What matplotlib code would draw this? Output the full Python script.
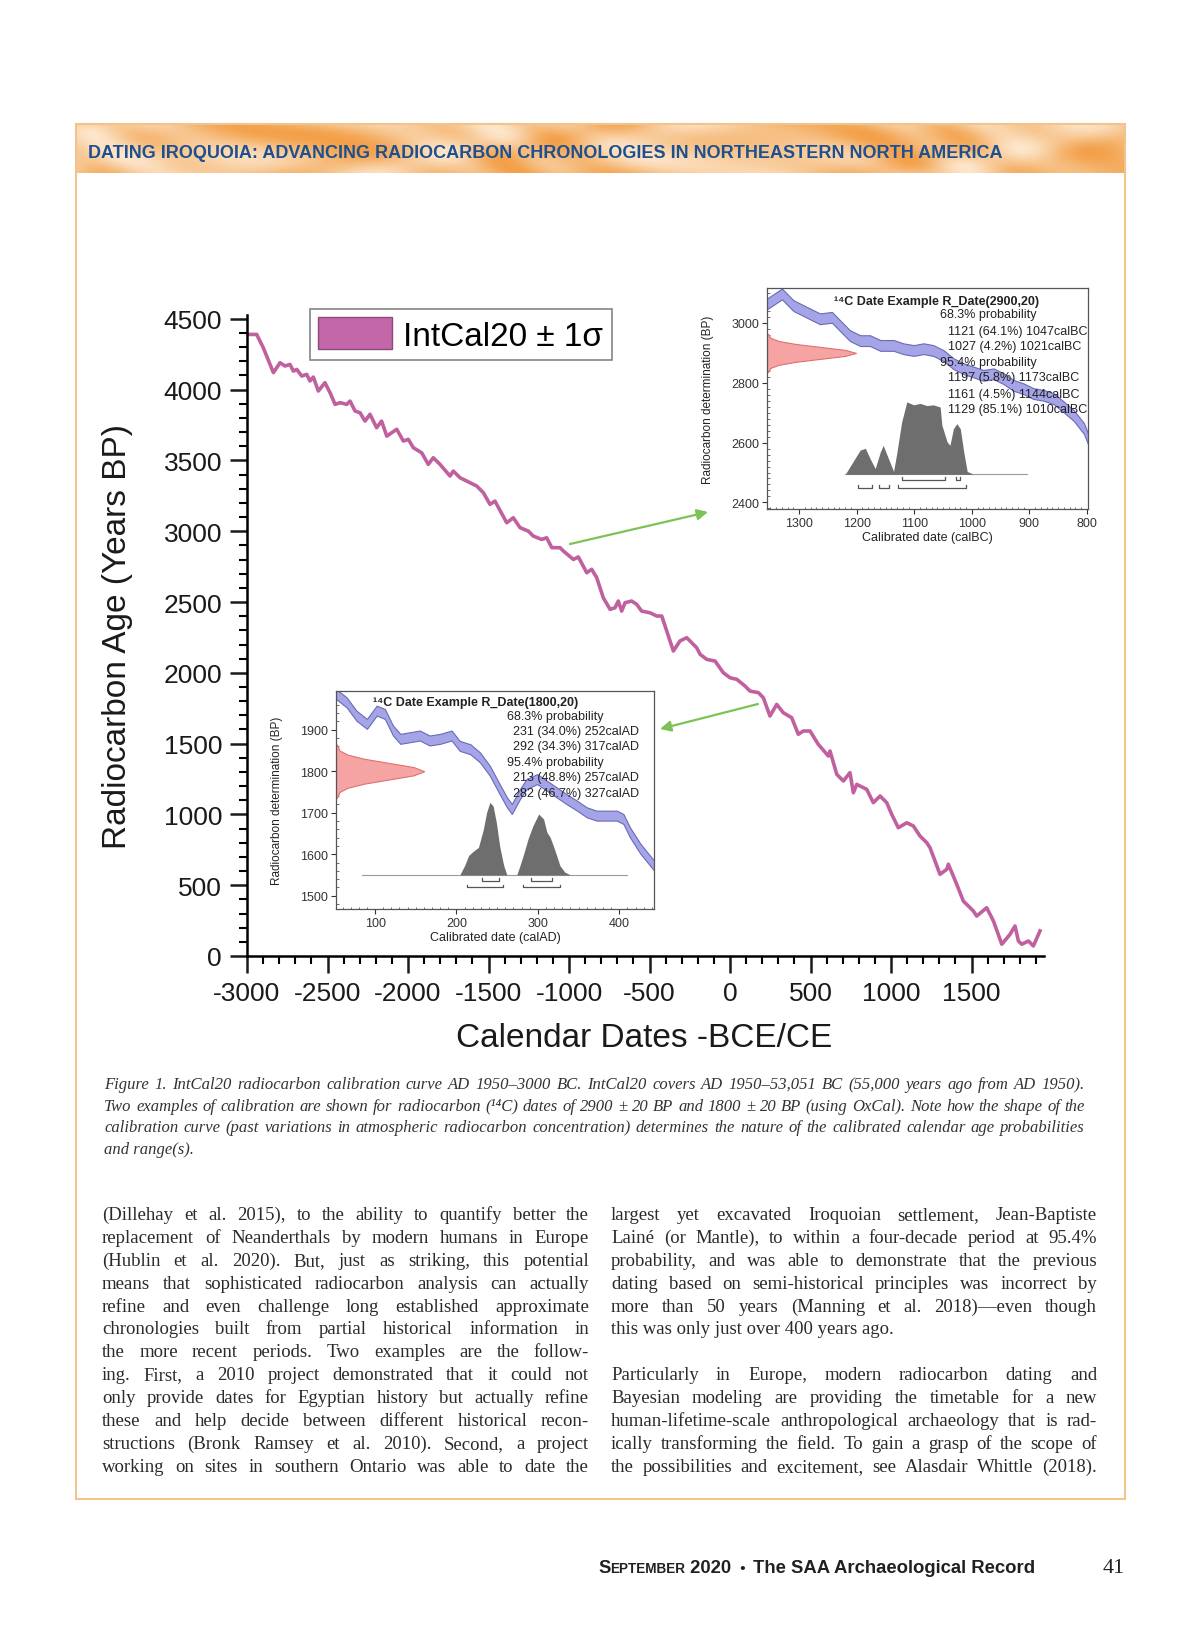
import numpy as np
import matplotlib
matplotlib.use('Agg')
import matplotlib.pyplot as plt
from matplotlib import font_manager
from matplotlib.colors import LinearSegmentedColormap
from matplotlib.patches import Patch, Rectangle

# IntCal20 curve (calendar year, 14C age BP)
cal_year = [-3000, -2940, -2899, -2836, -2795, -2764, -2733, -2712, -2691, -2660,
            -2629, -2609, -2588, -2557, -2516, -2484, -2453, -2422, -2381, -2360,
            -2329, -2298, -2267, -2236, -2195, -2164, -2132, -2070, -2029, -1998,
            -1967, -1915, -1874, -1843, -1801, -1739, -1719, -1677, -1573, -1532,
            -1491, -1460, -1387, -1346, -1304, -1253, -1222, -1170, -1139, -1107,
            -1056, -1035, -973, -942, -890, -859, -828, -787, -745, -714,
            -694, -673, -652, -611, -580, -549, -497, -455, -424, -393,
            -352, -311, -269, -238, -207, -186, -145, -93, -42, 0,
            42, 93, 124, 176, 207, 248, 290, 331, 383, 424,
            455, 497, 548, 611, 621, 663, 704, 745, 766, 787,
            849, 890, 932, 973, 1004, 1045, 1098, 1139, 1180, 1222,
            1242, 1304, 1346, 1356, 1408, 1449, 1511, 1532, 1594, 1636,
            1688, 1739, 1770, 1791, 1812, 1853, 1884, 1925]
bp_age = [4390, 4390, 4296, 4120, 4190, 4167, 4178, 4131, 4143, 4096,
          4108, 4061, 4089, 3990, 4049, 3978, 3896, 3908, 3896, 3919,
          3849, 3837, 3778, 3826, 3731, 3778, 3672, 3720, 3637, 3649,
          3590, 3554, 3472, 3519, 3472, 3390, 3425, 3378, 3319, 3272,
          3190, 3213, 3060, 3095, 3025, 3001, 2966, 2942, 2954, 2884,
          2884, 2860, 2801, 2818, 2707, 2731, 2672, 2530, 2448, 2460,
          2507, 2436, 2495, 2507, 2484, 2436, 2424, 2401, 2401, 2295,
          2154, 2225, 2248, 2213, 2177, 2131, 2095, 2083, 2001, 1965,
          1954, 1907, 1871, 1860, 1824, 1695, 1777, 1718, 1683, 1566,
          1589, 1589, 1495, 1412, 1448, 1283, 1236, 1295, 1153, 1212,
          1177, 1083, 1130, 1083, 1001, 906, 941, 918, 847, 800,
          765, 577, 612, 648, 506, 388, 318, 282, 341, 247,
          83, 153, 212, 106, 83, 106, 71, 177]

# inset 1: R_Date(2900,20)
ins1_year = [1356, 1330, 1310, 1287, 1264, 1243, 1229, 1212, 1194, 1177,
             1159, 1136, 1119, 1101, 1084, 1067, 1049, 1032, 1014, 997,
             980, 962, 945, 927, 910, 893, 875, 858, 840, 823, 805, 797]
ins1_bp = [3064, 3097, 3058, 3036, 3014, 3019, 2991, 2958, 2941, 2941,
           2925, 2925, 2914, 2908, 2914, 2908, 2891, 2864, 2847, 2836,
           2825, 2830, 2814, 2791, 2780, 2764, 2758, 2747, 2719, 2691, 2647, 2608]
post1_year = [1220, 1203, 1194, 1185, 1177, 1168, 1159, 1154, 1145, 1136, 1130, 1122, 1113, 1101,
              1090, 1078, 1067, 1055, 1052, 1043, 1038, 1032, 1026, 1020, 1014, 1008, 997]
post1_prob = [0, 0.22, 0.335, 0.36, 0.22, 0.08, 0.31, 0.40, 0.22, 0.04, 0.31, 0.72, 1.0, 0.96,
              0.98, 0.95, 0.96, 0.93, 0.68, 0.45, 0.40, 0.63, 0.70, 0.63, 0.31, 0.04, 0]
ins1_r68 = [(1121, 1047), (1027, 1021)]
ins1_r95 = [(1197, 1173), (1161, 1144), (1129, 1010)]
ins1_lines = [('68.3% probability', 0), ('1121 (64.1%) 1047calBC', 1), ('1027 (4.2%) 1021calBC', 1),
              ('95.4% probability', 0), ('1197 (5.8%) 1173calBC', 1), ('1161 (4.5%) 1144calBC', 1),
              ('1129 (85.1%) 1010calBC', 1)]

# inset 2: R_Date(1800,20)
ins2_year = [52, 65, 77, 90, 102, 112, 122, 131, 143, 155, 167, 180, 194, 204, 217, 229, 241, 253,
             262, 268, 278, 286, 299, 311, 323, 335, 348, 360, 372, 385, 397, 405, 413, 426, 443]
ins2_bp = [1986, 1966, 1934, 1914, 1946, 1938, 1898, 1878, 1882, 1886, 1874, 1878, 1886, 1861,
           1853, 1833, 1801, 1757, 1725, 1709, 1745, 1769, 1781, 1765, 1749, 1733, 1717, 1701,
           1693, 1693, 1693, 1685, 1653, 1613, 1572]
post2_year = [204, 210, 215, 221, 227, 233, 237, 241, 245, 249, 253, 258, 262, 274,
              278, 282, 288, 294, 301, 307, 311, 315, 319, 323, 327, 333, 340]
post2_prob = [0, 0.13, 0.27, 0.33, 0.38, 0.63, 0.86, 1.0, 0.95, 0.72, 0.40, 0.13, 0, 0,
              0.13, 0.27, 0.50, 0.68, 0.84, 0.77, 0.59, 0.52, 0.40, 0.27, 0.13, 0.04, 0]
ins2_r68 = [(231, 252), (292, 317)]
ins2_r95 = [(213, 257), (282, 327)]
ins2_lines = [('68.3% probability', 0), ('231 (34.0%) 252calAD', 1), ('292 (34.3%) 317calAD', 1),
              ('95.4% probability', 0), ('213 (48.8%) 257calAD', 1), ('282 (46.7%) 327calAD', 1)]

date_off = [-64, -50, -40, -30, -20, -10, 0, 10, 20, 30, 40, 50, 64]
date_prob = [0.01, 0.04, 0.13, 0.32, 0.6, 0.88, 1.0, 0.88, 0.6, 0.32, 0.13, 0.04, 0.01]

header = 'DATING IROQUOIA: ADVANCING RADIOCARBON CHRONOLOGIES IN NORTHEASTERN NORTH AMERICA'
caption = ['Figure 1. IntCal20 radiocarbon calibration curve AD 1950–3000 BC. IntCal20 covers AD 1950–53,051 BC (55,000 years ago from AD 1950).',
           'Two examples of calibration are shown for radiocarbon (¹⁴C) dates of 2900 ± 20 BP and 1800 ± 20 BP (using OxCal). Note how the shape of the',
           'calibration curve (past variations in atmospheric radiocarbon concentration) determines the nature of the calibrated calendar age probabilities',
           'and range(s).']
left_col = ['(Dillehay et al. 2015), to the ability to quantify better the',
            'replacement of Neanderthals by modern humans in Europe',
            '(Hublin et al. 2020). But, just as striking, this potential',
            'means that sophisticated radiocarbon analysis can actually',
            'refine and even challenge long established approximate',
            'chronologies built from partial historical information in',
            'the more recent periods. Two examples are the follow-',
            'ing. First, a 2010 project demonstrated that it could not',
            'only provide dates for Egyptian history but actually refine',
            'these and help decide between different historical recon-',
            'structions (Bronk Ramsey et al. 2010). Second, a project',
            'working on sites in southern Ontario was able to date the']
right_col = ['largest yet excavated Iroquoian settlement, Jean-Baptiste',
             'Lainé (or Mantle), to within a four-decade period at 95.4%',
             'probability, and was able to demonstrate that the previous',
             'dating based on semi-historical principles was incorrect by',
             'more than 50 years (Manning et al. 2018)—even though',
             'this was only just over 400 years ago.',
             '',
             'Particularly in Europe, modern radiocarbon dating and',
             'Bayesian modeling are providing the timetable for a new',
             'human-lifetime-scale anthropological archaeology that is rad-',
             'ically transforming the field. To gain a grasp of the scope of',
             'the possibilities and excitement, see Alasdair Whittle (2018).']


def has_font(name):
    try:
        font_manager.findfont(font_manager.FontProperties(family=name), fallback_to_default=False)
        return True
    except ValueError:
        return False


SANS = ['Liberation Sans', 'DejaVu Sans']
NARROW = (['Liberation Sans Narrow'] + SANS) if has_font('Liberation Sans Narrow') else SANS
SERIF = ['Liberation Serif', 'DejaVu Serif']
plt.rcParams['font.family'] = SANS
plt.rcParams['axes.unicode_minus'] = False

W, H = 1200, 1631
fig = plt.figure(figsize=(W / 100, H / 100), dpi=100)
renderer = fig.canvas.get_renderer()


def box(l, t, r, b):
    return [l / W, 1 - b / H, (r - l) / W, (b - t) / H]


def justify(ax, s, x0, x1, y, **kw):
    words = s.split(' ')
    arts = [ax.text(x0, y, w, va='baseline', ha='left', **kw) for w in words]
    ws = [a.get_window_extent(renderer).width for a in arts]
    gap = (x1 - x0 - sum(ws)) / max(len(words) - 1, 1)
    x = x0
    for a, w in zip(arts, ws):
        a.set_x(x)
        x += w + gap


def run(ax, x, y, pieces, width, **kw):
    arts = [ax.text(x, y, s, fontsize=size, va='baseline', ha='left', **kw) for s, size in pieces]
    k = width / sum(a.get_window_extent(renderer).width for a in arts)
    for a, (s, size) in zip(arts, pieces):
        a.set_fontsize(size * k)
        a.set_x(x)
        x += a.get_window_extent(renderer).width


# page background, banner, border
page = fig.add_axes([0, 0, 1, 1], zorder=0)
page.axis('off')
yy, xx = np.mgrid[0:49, 0:1049]
tex = np.sin(xx / 45.0 + 1.5 * np.sin(yy / 14.0 + xx / 90.0)) + 0.7 * np.cos(xx / 21.0 - yy / 9.0 + 2 * np.sin(xx / 70.0))
banner_cmap = LinearSegmentedColormap.from_list('banner', ['#f3a049', '#f7c48c', '#fde6cc'])
page.imshow(tex, cmap=banner_cmap, extent=(76, 1125, 174, 125), aspect='auto', interpolation='bilinear')
page.add_patch(Rectangle((76, 125), 1049, 1375, fill=False, ec='#f1c48c', lw=1.5))
page.set_xlim(0, W)
page.set_ylim(H, 0)

t = page.text(88, 158, header, color='#1e4f8e', fontweight='bold', family=NARROW, fontsize=10,
              va='baseline', ha='left')
t.set_fontsize(10 * 910 / t.get_window_extent(renderer).width)

for i, line in enumerate(caption):
    y = 1089 + i * 21.6
    kw = dict(family=SERIF, style='italic', fontsize=12, color='#333333')
    if i < len(caption) - 1:
        justify(page, line, 104, 1085, y, **kw)
    else:
        page.text(104, y, line, va='baseline', **kw)

for col, (x0, x1) in ((left_col, (102, 589)), (right_col, (611, 1097))):
    for i, line in enumerate(col):
        if not line:
            continue
        y = 1220 + i * 22.9
        kw = dict(family=SERIF, fontsize=13.5, color='#2a2a2a')
        if line.endswith('ago.'):
            page.text(x0, y, line, va='baseline', **kw)
        else:
            justify(page, line, x0, x1, y, **kw)

run(page, 598, 1573, [('S', 15), ('EPTEMBER', 11), (' 2020', 15), ('  •  ', 12),
                      ('The SAA Archaeological Record', 15)], 439,
    family=NARROW, fontweight='bold', color='#231f20')
page.text(1125, 1573, '41', ha='right', va='baseline', family=SERIF, fontsize=16, color='#231f20')

# main calibration curve
ax = fig.add_axes(box(247, 315.6, 1044, 957), zorder=2)
ax.patch.set_alpha(0)
ax.plot(cal_year, bp_age, color='#c0609f', lw=2.6, solid_joinstyle='round')
ax.set_xlim(-3000, 1950)
ax.set_ylim(0, 4530)
for s in ('top', 'right'):
    ax.spines[s].set_visible(False)
for s in ('left', 'bottom'):
    ax.spines[s].set_linewidth(1.8)
ax.set_xticks(np.arange(-3000, 1501, 500))
ax.set_xticks(np.arange(-3000, 1951, 100), minor=True)
ax.set_yticks(np.arange(0, 4501, 500))
ax.set_yticks(np.arange(0, 4501, 100), minor=True)
ax.tick_params(which='major', length=12, width=1.8, labelsize=19, pad=6, colors='#1a1a1a')
ax.tick_params(which='minor', length=6, width=1.5)
ax.set_ylabel('Radiocarbon Age (Years BP)', fontsize=24, color='#1a1a1a')
ax.yaxis.set_label_coords(-0.143, 0.5)
ax.set_xlabel('Calendar Dates -BCE/CE', fontsize=24, color='#1a1a1a')
ax.xaxis.set_label_coords(0.498, -0.103)
leg = ax.legend(handles=[Patch(facecolor='#c467a8', edgecolor='#8a4a7a', label='IntCal20 ± 1σ')],
                loc='upper left', bbox_to_anchor=((310 - 247) / 797, (957 - 310) / 641.4),
                fontsize=24, frameon=True, fancybox=False, edgecolor='#666666',
                handlelength=2.2, handleheight=1.1, borderpad=0.25, borderaxespad=0,
                handletextpad=0.35)
leg.get_frame().set_linewidth(1.2)


def inset(pos, xlim, ylim, cx, cbp, sig, date, px, pp, base, scale, span, r68, r95, rows, tick_h,
          xticks, yticks, xlabel, title, title_xy, lines, line_x, line_y):
    a = fig.add_axes(pos, zorder=3)
    a.set_xlim(*xlim)
    a.set_ylim(*ylim)
    cx = np.array(cx)
    cbp = np.array(cbp)
    a.fill_between(cx, cbp - sig, cbp + sig, facecolor='#a4a4e6', edgecolor='#6a6ab8', lw=0.8, zorder=2)
    rb = date + np.array(date_off)
    a.fill_betweenx(rb, xlim[0], xlim[0] + np.array(date_prob) * (xlim[1] - xlim[0]) * 0.277,
                    facecolor='#f6a3a3', edgecolor='#e07070', lw=0.8, zorder=2)
    a.plot(span, [base, base], color='#9a9a9a', lw=0.8, zorder=2)
    a.fill_between(px, base, base + np.array(pp) * scale, color='#6e6e6e', lw=0, zorder=3)
    for ranges, yr in zip((r68, r95), rows):
        for x0, x1 in ranges:
            a.plot([x0, x0, x1, x1], [yr + tick_h, yr, yr, yr + tick_h], color='#555555', lw=0.9, zorder=3)
    for s in a.spines.values():
        s.set_linewidth(0.9)
        s.set_color('#555555')
    a.set_xticks(xticks)
    a.set_yticks(yticks)
    a.xaxis.set_minor_locator(matplotlib.ticker.MultipleLocator(10))
    a.yaxis.set_minor_locator(matplotlib.ticker.MultipleLocator(20))
    a.tick_params(which='major', labelsize=9, length=3.5, width=0.8, colors='#333333', pad=2)
    a.tick_params(which='minor', length=1.8, width=0.6, direction='in', colors='#555555')
    a.set_ylabel('Radiocarbon determination (BP)', fontsize=8.5, color='#222222')
    a.yaxis.set_label_coords(-0.165, 0.5)
    a.set_xlabel(xlabel, fontsize=9, color='#222222')
    a.xaxis.set_label_coords(0.5, -0.10)
    a.text(title_xy[0], title_xy[1], title, transform=a.transAxes, ha='center', va='center',
           fontsize=9, fontweight='bold', color='#222222', zorder=5)
    for (s, indent), y in zip(lines, line_y):
        a.text(line_x[indent], y, s, transform=a.transAxes, ha='left', va='center',
               fontsize=9, color='#222222', zorder=5)
    return a


inset(box(767, 289, 1088, 510), (1356, 798), (2378, 3117), ins1_year, ins1_bp, 18, 2900,
      post1_year, post1_prob, 2494, 242, [1220, 904], ins1_r68, ins1_r95, (2475, 2449), 10,
      [1300, 1200, 1100, 1000, 900, 800], [2400, 2600, 2800, 3000], 'Calibrated date (calBC)',
      '¹⁴C Date Example R_Date(2900,20)', (0.529, 0.943), ins1_lines, (0.539, 0.565),
      [0.882, 0.807, 0.739, 0.666, 0.596, 0.520, 0.452])

inset(box(336, 691.7, 654.3, 910), (52, 443), (1468, 1994), ins2_year, ins2_bp, 12, 1800,
      post2_year, post2_prob, 1550, 175, [84, 409], ins2_r68, ins2_r95, (1536, 1520), 7,
      [100, 200, 300, 400], [1500, 1600, 1700, 1800, 1900], 'Calibrated date (calAD)',
      '¹⁴C Date Example R_Date(1800,20)', (0.44, 0.947), ins2_lines, (0.536, 0.557),
      [0.885, 0.817, 0.748, 0.675, 0.603, 0.530])

# green pointer arrows from the curve to the two insets
top = fig.add_axes([0, 0, 1, 1], zorder=10)
top.axis('off')
top.set_xlim(0, W)
top.set_ylim(H, 0)
arrow = dict(arrowstyle='-|>', color='#7cc257', lw=1.6, mutation_scale=16, shrinkA=0, shrinkB=0)
top.annotate('', xy=(708, 513), xytext=(570, 545), arrowprops=arrow)
top.annotate('', xy=(660, 730), xytext=(758, 705), arrowprops=arrow)

fig.savefig('out.png', dpi=100, facecolor='white')
